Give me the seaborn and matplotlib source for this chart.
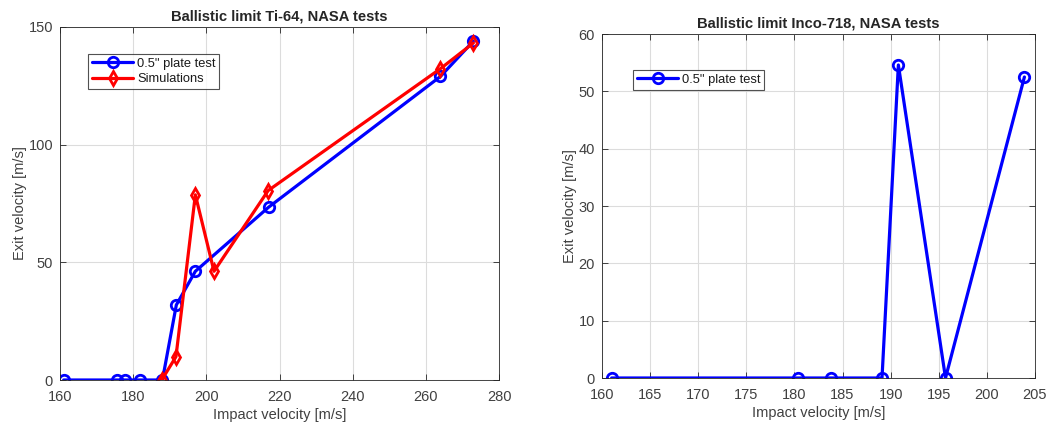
import matplotlib
matplotlib.use("Agg")
import matplotlib.pyplot as plt
import seaborn as sns

# Ti-64 plate: NASA test data and simulations
ti_test_impact = [161.0, 175.7, 177.9, 181.9, 188.0, 191.8, 197.0, 217.0, 264.0, 273.0]
ti_test_exit = [0.0, 0.0, 0.0, 0.0, 0.0, 31.9, 46.2, 73.4, 129.0, 144.0]
ti_sim_impact = [187.8, 191.7, 197.0, 202.1, 216.9, 264.0, 273.0]
ti_sim_exit = [0.0, 9.9, 78.7, 46.2, 80.5, 132.3, 143.2]

# Inco-718 plate: NASA test data
inco_test_impact = [161.0, 180.4, 183.8, 189.1, 190.8, 195.7, 203.9]
inco_test_exit = [0.0, 0.0, 0.0, 0.0, 54.6, 0.0, 52.5]

sns.set_theme(style="white")
plt.rcParams["font.family"] = ["Liberation Sans", "DejaVu Sans"]

axis_gray = "#262626"
label_gray = "#404040"
fig = plt.figure(figsize=(10.55, 4.23), dpi=100)
W, H = 1055, 423
ax1 = fig.add_axes([60 / W, 1 - 380 / H, (499 - 60) / W, (380 - 27) / H])
ax2 = fig.add_axes([602 / W, 1 - 378 / H, (1035 - 602) / W, (378 - 34) / H])

line_kw = dict(linewidth=2.3, markersize=7.5, markeredgewidth=2.0,
               markerfacecolor="none", sort=False, estimator=None)

sns.lineplot(x=ti_test_impact, y=ti_test_exit, ax=ax1, color="#0000ff",
             marker="o", markeredgecolor="#0000ff", label='0.5" plate test', **line_kw)
sns.lineplot(x=ti_sim_impact, y=ti_sim_exit, ax=ax1, color="#ff0000",
             marker="d", markeredgecolor="#ff0000", label="Simulations", **line_kw)
sns.lineplot(x=inco_test_impact, y=inco_test_exit, ax=ax2, color="#0000ff",
             marker="o", markeredgecolor="#0000ff", label='0.5" plate test', **line_kw)

ax1.set_xlim(160, 280)
ax1.set_ylim(0, 150)
ax1.set_xticks(range(160, 281, 20))
ax1.set_yticks([0, 50, 100, 150])
ax1.set_title("Ballistic limit Ti-64, NASA tests", fontsize=10.6, fontweight="bold", pad=5)

ax2.set_xlim(160, 205)
ax2.set_ylim(0, 60)
ax2.set_xticks(range(160, 206, 5))
ax2.set_yticks(range(0, 61, 10))
ax2.set_title("Ballistic limit Inco-718, NASA tests", fontsize=10.6, fontweight="bold", pad=5)

for ax in (ax1, ax2):
    ax.set_xlabel("Impact velocity [m/s]", fontsize=10.5, color=label_gray, labelpad=3)
    ax.set_ylabel("Exit velocity [m/s]", fontsize=10.5, color=label_gray, labelpad=1)
    ax.grid(True, color="#dcdcdc", linewidth=0.8)
    ax.set_axisbelow(True)
    ax.tick_params(direction="in", length=4, width=0.6, colors=axis_gray,
                   labelsize=10.5, top=True, right=True, bottom=True, left=True)
    ax.tick_params(axis="x", pad=7)
    ax.tick_params(axis="y", pad=5)
    ax.tick_params(axis="both", labelcolor=label_gray)
    for sp in ax.spines.values():
        sp.set_visible(True)
        sp.set_color(axis_gray)
        sp.set_linewidth(0.6)

leg_kw = dict(fontsize=9.3, frameon=True, fancybox=False, edgecolor=axis_gray,
              handlelength=3.2, borderpad=0.3, labelspacing=0.25, handletextpad=0.3,
              borderaxespad=0)
leg1 = ax1.legend(loc="upper left", bbox_to_anchor=((88 - 60) / 439, (380 - 54) / 353), **leg_kw)
leg2 = ax2.legend(loc="upper left", bbox_to_anchor=((633 - 602) / 433, (378 - 70) / 344), **leg_kw)
for leg in (leg1, leg2):
    leg.get_frame().set_linewidth(0.8)
    for t in leg.get_texts():
        t.set_color("#1a1a1a")

fig.savefig("out.png", dpi=100)
